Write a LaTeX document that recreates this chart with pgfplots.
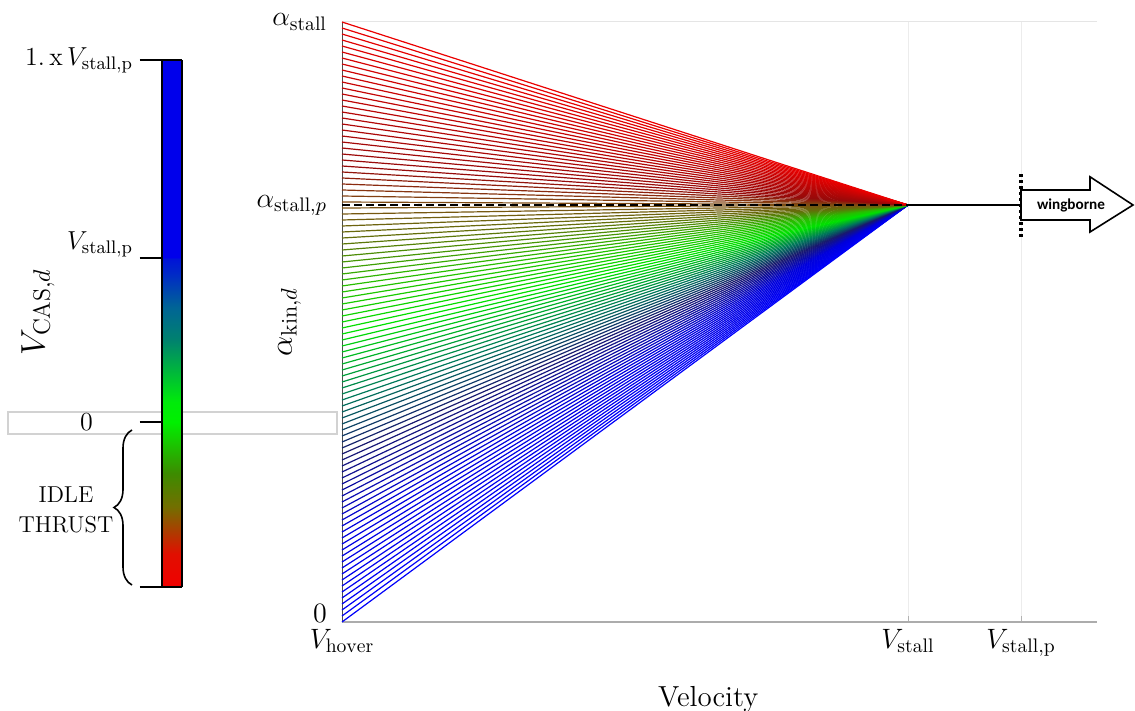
\RequirePackage{fix-cm}
\documentclass[border=0pt]{standalone}
\usepackage{fontspec}
\newfontfamily\carlito{Carlito}
\usepackage{pgfplots}
\pgfplotsset{compat=1.18}
\usetikzlibrary{decorations.pathreplacing}

\pgfplotsset{
  colormap={fan}{rgb255(0pt)=(0,0,250) rgb255(150pt)=(0,0,220) rgb255(280pt)=(25,25,110)
    rgb255(370pt)=(0,120,90) rgb255(480pt)=(0,225,0) rgb255(560pt)=(40,190,0)
    rgb255(640pt)=(100,110,10) rgb255(695pt)=(125,80,20)
    rgb255(760pt)=(150,10,10) rgb255(1000pt)=(235,0,0)},
  colormap={cbar}{rgb255(0pt)=(240,0,0) rgb255(33pt)=(225,15,0) rgb255(80pt)=(115,110,0)
    rgb255(114pt)=(60,140,0) rgb255(165pt)=(0,240,0) rgb255(185pt)=(0,235,10)
    rgb255(247pt)=(0,130,110) rgb255(280pt)=(0,100,150) rgb255(314pt)=(0,40,200)
    rgb255(328pt)=(0,20,215) rgb255(330pt)=(0,0,235) rgb255(527pt)=(0,0,235)},
}

\begin{document}
\begin{tikzpicture}
\path[use as bounding box] (0,0) rectangle (567.5pt,-355.5pt);

% decorations left of the colour bar (pixel units, y down)
\begin{scope}[x=0.5pt,y=-0.5pt]
  \draw[gray!35, line width=0.6pt] (8,412) rectangle (337,434);
  \draw[decorate, decoration={brace, amplitude=9pt}, line width=0.8pt] (132,585) -- (132,430);
  \node[align=center, font=\fontsize{11.5}{15}\selectfont] at (66,510) {IDLE\\THRUST};
  \node[rotate=90, font=\fontsize{17}{20}\selectfont] at (38,312) {$V_{\mathrm{CAS},d}$};
\end{scope}

% colour bar
\begin{axis}[
    at={(81pt,-293.5pt)}, anchor=south west,
    scale only axis, width=10pt, height=263.5pt,
    view={0}{90},
    xmin=0, xmax=1, ymin=0, ymax=527, zmin=0, zmax=1,
    colormap name=cbar, point meta min=0, point meta max=527,
    xtick=\empty, ztick=\empty,
    ytick={0,165,329,527},
    yticklabels={{}, {$0$\hspace*{20pt}}, {\smash{\raisebox{4pt}{$V_{\mathrm{stall,p}}$}}}, {$1.\,\mathrm{x}\,V_{\mathrm{stall,p}}$}},
    ytick pos=left, yticklabel pos=left,
    tick align=outside, major tick length=11pt,
    every tick/.style={black, line width=0.6pt},
    axis line style={black, line width=0.9pt},
    tick label style={font=\fontsize{13}{15}\selectfont},
]
\addplot3[surf, shader=interp, point meta=y] table {
x y z
0 0 0
1 0 0

0 33 0
1 33 0

0 80 0
1 80 0

0 114 0
1 114 0

0 165 0
1 165 0

0 185 0
1 185 0

0 247 0
1 247 0

0 280 0
1 280 0

0 314 0
1 314 0

0 328 0
1 328 0

0 330 0
1 330 0

0 527 0
1 527 0
};
\end{axis}

% main fan chart
\begin{axis}[
    at={(171pt,-311pt)}, anchor=south west,
    scale only axis, width=377.5pt, height=300pt,
    xmin=0, xmax=755, ymin=0, ymax=1000,
    clip=false,
    axis lines*=left, axis line style={-},
    x axis line style={gray!65, line width=0.7pt},
    y axis line style={black!70, line width=0.5pt},
    xtick={0,566,679},
    xticklabels={$V_{\mathrm{hover}}$, $V_{\mathrm{stall}}$, $V_{\mathrm{stall,p}}$},
    ytick={0,695,1000},
    yticklabels={\smash{$0$}, $\alpha_{\mathrm{stall},p}$, $\alpha_{\mathrm{stall}}$},
    yticklabel style={xshift=-4pt},
    xmajorgrids, grid style={gray!15, line width=0.5pt},
    tick align=inside, major tick length=3pt,
    x tick style={gray!60}, y tick style={draw=none},
    tick label style={font=\fontsize{14}{16}\selectfont},
    xlabel={Velocity}, ylabel={$\alpha_{\mathrm{kin},d}$},
    xlabel style={at={(axis description cs:0.485,-0.095)}, anchor=north, font=\fontsize{14.5}{17}\selectfont},
    ylabel style={at={(axis description cs:-0.045,0.5)}, anchor=south, font=\fontsize{16}{19}\selectfont},
    colormap name=fan, point meta min=0, point meta max=1000,
]
\draw[gray!20, line width=0.5pt] (axis cs:0,1000) -- (axis cs:755,1000);
\pgfplotsinvokeforeach{0,10,20,30,40,50,60,70,80,90,100,110,120,130,140,150,160,170,180,190,
  200,210,220,230,240,250,260,270,280,290,300,310,320,330,340,350,360,370,380,390,
  400,410,420,430,440,450,460,470,480,490,500,510,520,530,540,550,560,570,580,590,
  600,610,620,630,640,650,660,670,680,690,700,710,720,730,740,750,760,770,780,790,
  800,810,820,830,840,850,860,870,880,890,900,910,920,930,940,950,960,970,980,990,1000}{
  \addplot[mesh, point meta=#1, line width=0.6pt, forget plot] coordinates {(0,#1) (566,695)};
}
\addplot[black, line width=0.6pt, dash pattern=on 4pt off 2pt, forget plot] coordinates {(0,695) (566,695)};
\addplot[black, line width=1pt, forget plot] coordinates {(566,695) (679,695)};
\addplot[black, line width=1.6pt, dash pattern=on 1.4pt off 1.6pt, forget plot] coordinates {(679,642) (679,750)};
\draw[black, fill=white, line width=0.8pt]
  (axis cs:679,670) -- (axis cs:748,670) -- (axis cs:748,650) -- (axis cs:791,695)
  -- (axis cs:748,742) -- (axis cs:748,720) -- (axis cs:679,720) -- cycle;
\node[font=\carlito\bfseries\fontsize{7.6}{9}\selectfont] at (axis cs:729,695) {wingborne};
\end{axis}
\end{tikzpicture}
\end{document}
